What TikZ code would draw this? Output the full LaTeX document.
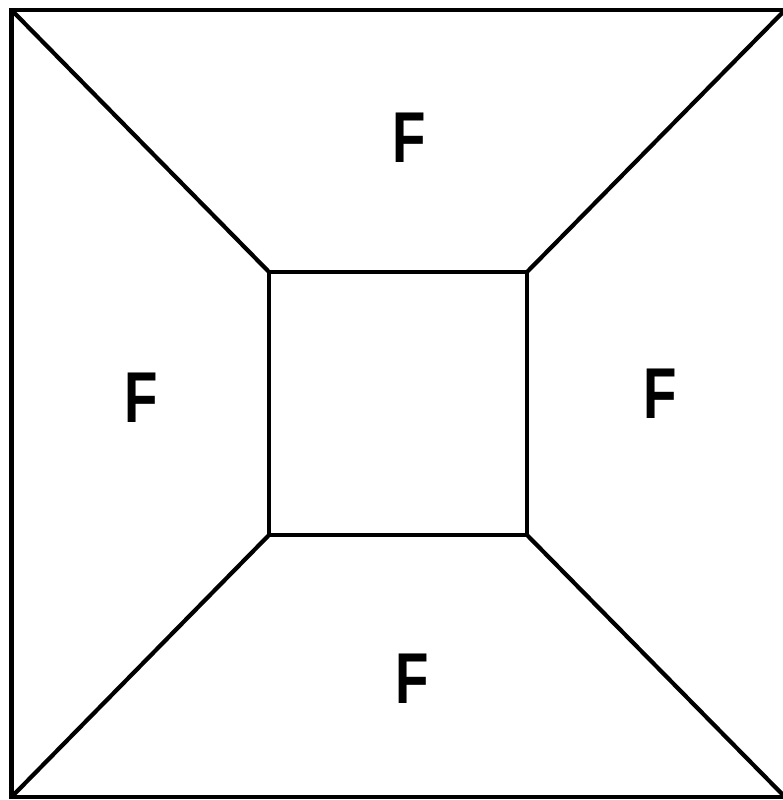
\documentclass[tikz,border=0pt]{standalone}
\usepackage{fontspec}
\setmainfont{Liberation Sans}
\usepackage{tikz}

\begin{document}
\begin{tikzpicture}[
      x=1pt, y=-1pt,
      edge/.style={line width=4.2pt, draw=black, line join=miter},
      face/.style={font=\bfseries\fontsize{72}{72}\selectfont, inner sep=0pt}
    ]
    \useasboundingbox (0,0) rectangle (782,800);
    % outer frame corners
    \coordinate (otl) at (11.5,10);
    \coordinate (otr) at (785,10);
    \coordinate (obr) at (785,797);
    \coordinate (obl) at (11.5,797);
    % inner square corners
    \coordinate (itl) at (269,272);
    \coordinate (itr) at (527,272);
    \coordinate (ibr) at (527,535);
    \coordinate (ibl) at (269,535);

    \draw[edge] (otl) -- (otr) -- (obr) -- (obl) -- cycle;
    \draw[edge] (itl) -- (itr) -- (ibr) -- (ibl) -- cycle;
    \draw[edge] (otl) -- (itl);
    \draw[edge] (otr) -- (itr);
    \draw[edge] (obr) -- (ibr);
    \draw[edge] (obl) -- (ibl);

    \node[face] (ftop) at (409,138) {\scalebox{0.76}[1]{F}};
    \node[face] (fleft) at (141,398) {\scalebox{0.76}[1]{F}};
    \node[face] (fright) at (660,394) {\scalebox{0.76}[1]{F}};
    \node[face] (fbottom) at (412,679) {\scalebox{0.76}[1]{F}};
  \end{tikzpicture}
\end{document}
